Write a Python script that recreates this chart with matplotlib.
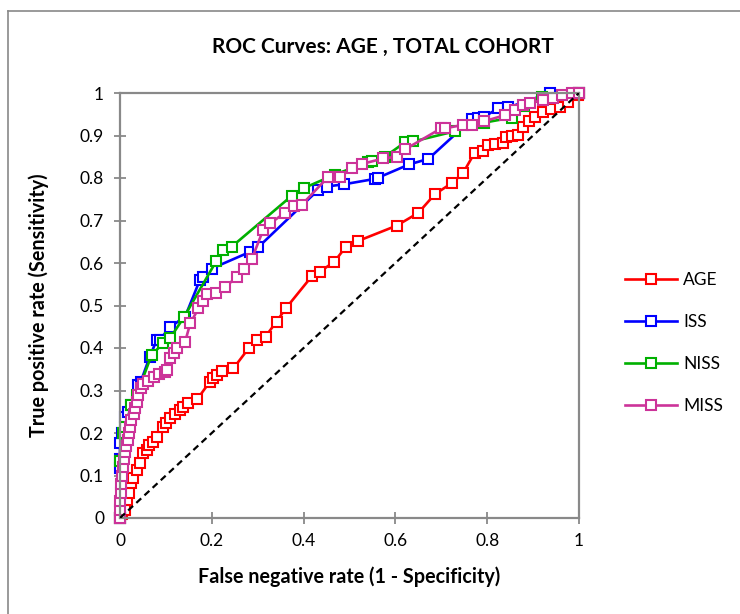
import matplotlib
matplotlib.use("Agg")
import matplotlib.pyplot as plt
from matplotlib.lines import Line2D

plt.rcParams['font.family'] = ['Lato', 'DejaVu Sans']

title = "ROC Curves: AGE , TOTAL COHORT"
xlabel = "False negative rate (1 - Specificity)"
ylabel = "True positive rate (Sensitivity)"
series_names = ["AGE", "ISS", "NISS", "MISS"]
series_colors = ["#FF0000", "#0000FF", "#00B000", "#CC3399"]

age_x = [0, 0.005, 0.01, 0.015, 0.02, 0.025, 0.029, 0.036, 0.044, 0.051, 0.058, 0.064, 0.072,
         0.081, 0.093, 0.100, 0.109, 0.12, 0.131, 0.138, 0.149, 0.168, 0.196, 0.202, 0.211,
         0.223, 0.247, 0.280, 0.298, 0.317, 0.341, 0.361, 0.418, 0.436, 0.467, 0.492, 0.519,
         0.603, 0.650, 0.686, 0.723, 0.747, 0.773, 0.790, 0.802, 0.817, 0.835, 0.842, 0.853,
         0.868, 0.879, 0.890, 0.904, 0.922, 0.938, 0.959, 0.977, 0.998, 1.0]
age_y = [0, 0.01, 0.02, 0.042, 0.06, 0.082, 0.093, 0.113, 0.129, 0.152, 0.16, 0.172, 0.18,
         0.191, 0.215, 0.223, 0.235, 0.245, 0.254, 0.262, 0.270, 0.279, 0.321, 0.329, 0.336,
         0.347, 0.352, 0.399, 0.419, 0.427, 0.462, 0.493, 0.569, 0.580, 0.603, 0.638, 0.652,
         0.688, 0.718, 0.762, 0.788, 0.811, 0.860, 0.864, 0.878, 0.880, 0.882, 0.896, 0.899,
         0.901, 0.921, 0.935, 0.944, 0.955, 0.962, 0.968, 0.980, 0.995, 1.0]

iss_x = [0, 0, 0, 0, 0.005, 0.011, 0.018, 0.025, 0.040, 0.045, 0.065, 0.080, 0.087, 0.109,
         0.142, 0.174, 0.181, 0.200, 0.283, 0.301, 0.432, 0.450, 0.487, 0.556, 0.563, 0.630,
         0.672, 0.766, 0.781, 0.792, 0.824, 0.846, 0.937, 1.0]
iss_y = [0, 0.118, 0.14, 0.176, 0.2, 0.238, 0.25, 0.266, 0.313, 0.32, 0.38, 0.419, 0.42, 0.449,
         0.474, 0.560, 0.568, 0.587, 0.626, 0.637, 0.772, 0.780, 0.785, 0.798, 0.801, 0.832,
         0.845, 0.938, 0.942, 0.943, 0.964, 0.966, 1.0, 1.0]

niss_x = [0, 0, 0.007, 0.011, 0.025, 0.036, 0.069, 0.094, 0.109, 0.139, 0.21, 0.225, 0.243,
          0.374, 0.40, 0.468, 0.541, 0.548, 0.577, 0.621, 0.639, 0.73, 0.792, 0.853, 0.88,
          0.919, 1.0]
niss_y = [0, 0.134, 0.2, 0.215, 0.266, 0.289, 0.384, 0.411, 0.423, 0.472, 0.605, 0.631, 0.638,
          0.758, 0.776, 0.808, 0.838, 0.84, 0.85, 0.884, 0.886, 0.91, 0.93, 0.942, 0.97,
          0.991, 1.0]

miss_x = [0, 0, 0, 0.002, 0.003, 0.004, 0.006, 0.008, 0.011, 0.013, 0.018, 0.02, 0.022, 0.025,
          0.03, 0.033, 0.037, 0.04, 0.046, 0.051, 0.062, 0.073, 0.085, 0.097, 0.102, 0.109,
          0.117, 0.124, 0.142, 0.153, 0.171, 0.18, 0.189, 0.21, 0.229, 0.254, 0.27, 0.287,
          0.312, 0.327, 0.359, 0.378, 0.396, 0.454, 0.479, 0.505, 0.527, 0.574, 0.603, 0.622,
          0.700, 0.708, 0.748, 0.766, 0.792, 0.839, 0.861, 0.879, 0.893, 0.922, 0.944, 0.962,
          0.984, 1.0]
miss_y = [0, 0.02, 0.04, 0.06, 0.08, 0.10, 0.12, 0.14, 0.156, 0.17, 0.184, 0.2, 0.215, 0.23,
          0.245, 0.26, 0.274, 0.289, 0.305, 0.315, 0.323, 0.332, 0.338, 0.344, 0.348, 0.376,
          0.388, 0.399, 0.415, 0.458, 0.493, 0.51, 0.527, 0.529, 0.544, 0.566, 0.585, 0.609,
          0.678, 0.693, 0.718, 0.733, 0.737, 0.803, 0.803, 0.823, 0.833, 0.846, 0.85, 0.868,
          0.917, 0.917, 0.925, 0.925, 0.933, 0.948, 0.96, 0.972, 0.976, 0.984, 0.989, 0.995,
          1.0, 1.0]

diag_x = [0, 1]
diag_y = [0, 1]

xticks = [0, 0.2, 0.4, 0.6, 0.8, 1.0]
xticklabels = ["0", "0.2", "0.4", "0.6", "0.8", "1"]
yticks = [0, 0.1, 0.2, 0.3, 0.4, 0.5, 0.6, 0.7, 0.8, 0.9, 1.0]
yticklabels = ["0", "0.1", "0.2", "0.3", "0.4", "0.5", "0.6", "0.7", "0.8", "0.9", "1"]

W, H = 740, 614
fig = plt.figure(figsize=(W / 100, H / 100), dpi=100)
ax = fig.add_axes([120 / W, 1 - 518 / H, (579 - 120) / W, (518 - 93) / H])

grey = "#898989"
# outer chart border
fig.add_artist(Line2D([8 / W, 8 / W], [0, 1 - 11 / H], transform=fig.transFigure, color=grey, lw=1.2))
fig.add_artist(Line2D([8 / W, 1], [1 - 11 / H, 1 - 11 / H], transform=fig.transFigure, color=grey, lw=1.2))

data = [(age_x, age_y), (iss_x, iss_y), (niss_x, niss_y), (miss_x, miss_y)]
handles = []
for (xs, ys), name, col in zip(data, series_names, series_colors):
    h, = ax.plot(xs, ys, color=col, lw=1.9, marker='s', markersize=6.8,
                 markerfacecolor='white', markeredgecolor=col, markeredgewidth=1.5,
                 label=name, clip_on=False)
    handles.append(h)

ax.plot(diag_x, diag_y, color='black', lw=1.6, dashes=(3, 2), zorder=5)

ax.set_xlim(0, 1)
ax.set_ylim(0, 1)
ax.set_xticks(xticks)
ax.set_xticklabels(xticklabels)
ax.set_yticks(yticks)
ax.set_yticklabels(yticklabels)
for s in ax.spines.values():
    s.set_color(grey)
    s.set_linewidth(1.6)
ax.tick_params(direction='inout', length=9, width=1.3, color=grey, labelsize=12.5,
               labelcolor='black')
ax.tick_params(axis='y', pad=7)
ax.tick_params(axis='x', pad=6)

ax.set_xlabel(xlabel, fontsize=14.2, fontweight='bold', labelpad=13)
ax.set_ylabel(ylabel, fontsize=14.2, fontweight='bold', labelpad=22)
fig.text(383 / W, 1 - 47 / H, title, fontsize=15, fontweight='bold', ha='center', va='center')

fig.legend(handles=handles, loc='center left', bbox_to_anchor=(625 / W, 1 - 343 / H),
           frameon=False, fontsize=12.5, handlelength=3.0, handletextpad=0.35,
           labelspacing=1.5, borderpad=0, borderaxespad=0, numpoints=1)

fig.savefig("out.png", dpi=100)
